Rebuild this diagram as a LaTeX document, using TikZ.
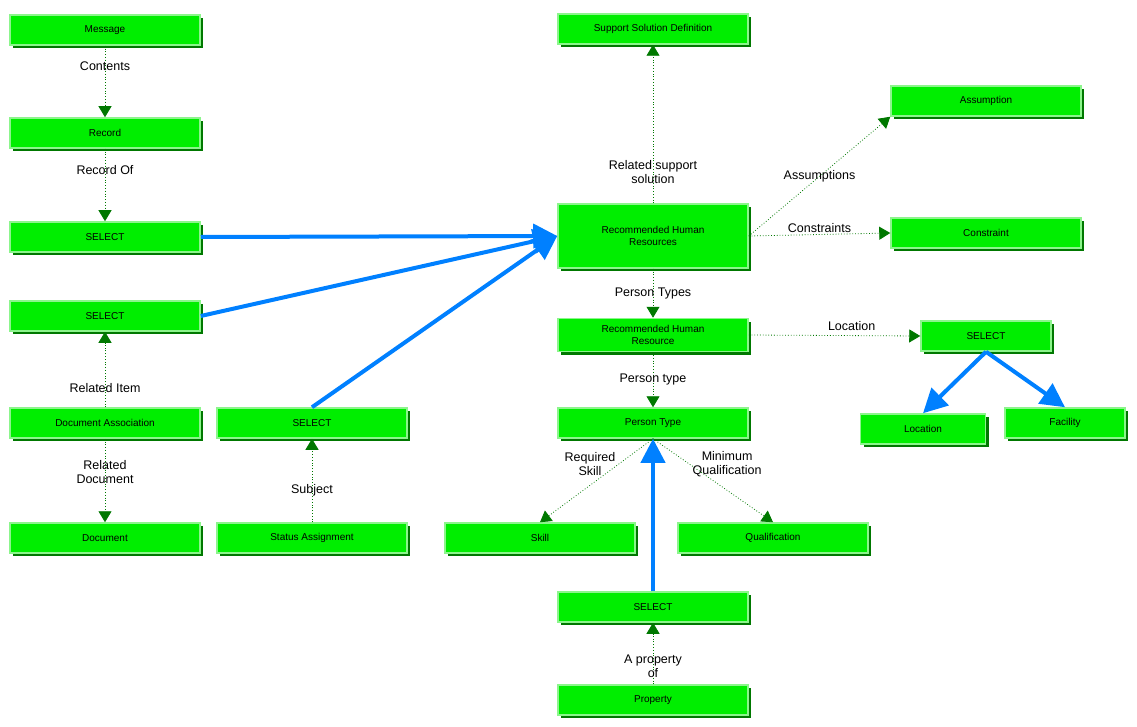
\documentclass[tikz,border=0pt]{standalone}
\usepackage{fontspec}
\setmainfont{Liberation Sans}
\usetikzlibrary{arrows.meta,shadows}
\definecolor{boxgreen}{RGB}{0,238,0}
\definecolor{edgegreen}{RGB}{140,245,140}
\definecolor{darkgreen}{RGB}{0,120,0}
\definecolor{linkblue}{RGB}{0,128,255}
\tikzset{
  box/.style={draw=edgegreen, line width=1.5pt, fill=boxgreen, minimum width=190pt,
    minimum height=30pt, align=center, font=\fontsize{10}{12}\selectfont, inner sep=1pt,
    drop shadow={fill=darkgreen, shadow xshift=3pt, shadow yshift=-3pt, opacity=1}},
  link/.style={darkgreen, dotted, line width=0.8pt, -{Triangle[length=11pt,width=13pt]}},
  ref/.style={linkblue, line width=4pt, -{Triangle[length=24pt,width=24pt]}},
  lbl/.style={font=\fontsize{12.5}{14}\selectfont, align=center, text=black}
}
\begin{document}
\begin{tikzpicture}[x=1pt,y=-1pt]
\useasboundingbox (0,0) rectangle (1137,727);

% Left column
\node[box] (msg) at (105,30) {Message};
\node[box] (rec) at (105,133) {Record};
\node[box] (sel1) at (105,237) {SELECT};
\node[box] (sel2) at (105,316) {SELECT};
\node[box] (docassoc) at (105,423) {Document Association};
\node[box] (doc) at (105,538) {Document};
\node[box] (sel3) at (312,423) {SELECT};
\node[box] (status) at (312,538) {Status Assignment};

% Centre column
\node[box] (support) at (653,29) {Support Solution Definition};
\node[box, minimum height=64pt] (rhrs) at (653,236) {Recommended Human\\Resources};
\node[box, minimum height=33pt] (rhr) at (653,335) {Recommended Human\\Resource};
\node[box] (ptype) at (653,423) {Person Type};
\node[box] (skill) at (540,538) {Skill};
\node[box] (qual) at (773,538) {Qualification};
\node[box] (sel4) at (653,607) {SELECT};
\node[box] (prop) at (653,700) {Property};

% Right column
\node[box] (assum) at (986,101) {Assumption};
\node[box] (cons) at (986,233) {Constraint};
\node[box, minimum width=130pt] (sel5) at (986,336) {SELECT};
\node[box, minimum width=125pt] (loc) at (923,429) {Location};
\node[box, minimum width=120pt] (fac) at (1065,423) {Facility};

% Attribute links
\draw[link] (msg) -- node[lbl, pos=0.29] {Contents} (rec);
\draw[link] (rec) -- node[lbl, pos=0.3] {Record Of} (sel1);
\draw[link] (docassoc) -- node[lbl, pos=0.25] {Related Item} (sel2);
\draw[link] (docassoc) -- node[lbl, pos=0.4] {Related\\Document} (doc);
\draw[link] (status) -- node[lbl, pos=0.38] {Subject} (sel3);
\draw[link] (rhrs) -- node[lbl, pos=0.2] {Related support\\solution} (support);
\draw[link] (rhrs.east) -- node[lbl, pos=0.5] {Assumptions} (assum.south west);
\draw[link] (rhrs.east) -- node[lbl, pos=0.5, above=-2pt] {Constraints} (cons.west);
\draw[link] (rhrs) -- node[lbl, pos=0.5] {Person Types} (rhr);
\draw[link] (rhr.east) -- node[lbl, pos=0.6, above=1pt] {Location} (sel5.west);
\draw[link] (rhr) -- node[lbl, pos=0.5] {Person type} (ptype);
\draw[link] (ptype.south) -- node[lbl, pos=0.3, left] {Required\\Skill} (skill.north);
\draw[link] (ptype.south) -- node[lbl, pos=0.3, right] {Minimum\\Qualification} (qual.north);
\draw[link] (prop) -- node[lbl, pos=0.3] {A property\\of} (sel4);

% Select references
\draw[ref] (sel1.east) -- (rhrs.west);
\draw[ref] (sel2.east) -- (rhrs.west);
\draw[ref] (sel3.north) -- (rhrs.west);
\draw[ref] (sel4.north) -- (ptype.south);
\draw[ref] (sel5.south) -- (loc.north);
\draw[ref] (sel5.south) -- (fac.north);

\end{tikzpicture}
\end{document}
